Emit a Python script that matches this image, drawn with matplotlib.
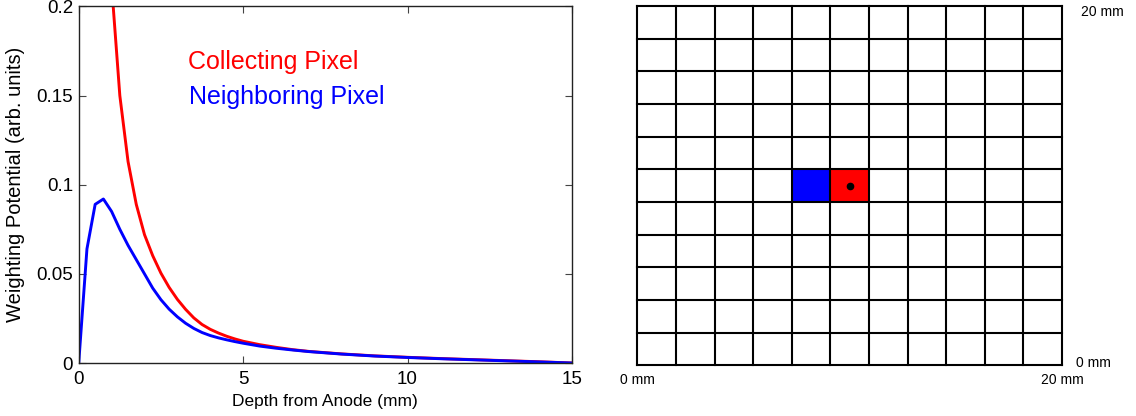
import matplotlib
matplotlib.use("Agg")
import matplotlib.pyplot as plt
import numpy as np
from matplotlib.patches import Rectangle

plt.rcParams['font.family'] = ['Liberation Sans', 'DejaVu Sans']

# ---- data: weighting potential vs depth ----
depth = [0, 0.25, 0.5, 0.75, 1.0, 1.25, 1.5, 1.75, 2.0, 2.25, 2.5, 2.75, 3.0,
         3.25, 3.5, 3.75, 4.0, 4.25, 4.5, 4.75, 5, 5.5, 6, 6.5, 7, 8, 9, 10,
         11, 12, 13, 14, 15]
collecting = [1.0, 0.6, 0.4, 0.28, 0.212, 0.150, 0.113, 0.089, 0.072, 0.0602,
              0.0504, 0.0424, 0.0357, 0.0301, 0.0253, 0.0216, 0.0189, 0.0168,
              0.0150, 0.0135, 0.0122, 0.0103, 0.0088, 0.0075, 0.0065, 0.0051,
              0.0040, 0.0032, 0.0025, 0.0019, 0.0013, 0.0007, 0.0]
neighboring = [0.0, 0.064, 0.089, 0.092, 0.085, 0.075, 0.066, 0.058, 0.050, 0.0420,
               0.0355, 0.0302, 0.0259, 0.0223, 0.0194, 0.0171, 0.0154, 0.0141,
               0.0130, 0.0120, 0.0111, 0.0095, 0.0083, 0.0073, 0.0064, 0.0050,
               0.0039, 0.0031, 0.0024, 0.0018, 0.0012, 0.0006, 0.0]

xticks = [0, 5, 10, 15]
yticks = [0, 0.05, 0.1, 0.15, 0.2]
yticklabels = ["0", "0.05", "0.1", "0.15", "0.2"]

# ---- data: pixel grid ----
n_cells = 11
collecting_cell = (5, 5)
neighbor_cell = (4, 5)
grid_labels = ["0 mm", "20 mm"]

fig = plt.figure(figsize=(11.36, 4.16), dpi=100)

# left panel
ax = fig.add_axes([0.0693, 0.1274, 0.4342, 0.857])
ax.plot(depth, collecting, color='#ff0000', lw=2.1)
ax.plot(depth, neighboring, color='#0000ff', lw=2.1)
ax.set_xlim(0, 15)
ax.set_ylim(0, 0.2)
ax.set_xticks(xticks)
ax.set_yticks(yticks)
ax.set_yticklabels(yticklabels)
ax.tick_params(direction='in', top=True, right=True, length=5, width=0.8,
               labelsize=13.5, color='#444444', pad=4)
ax.tick_params(axis='x', pad=6)
for s in ax.spines.values():
    s.set_color('#222222')
    s.set_linewidth(1.0)
ax.set_xlabel("Depth from Anode (mm)", fontsize=12.5, labelpad=4)
ax.set_ylabel("Weighting Potential (arb. units)", fontsize=14.5, labelpad=8)
ax.text(3.32, 0.169, "Collecting Pixel", color='#ff0000', fontsize=18, va='center', ha='left')
ax.text(3.35, 0.149, "Neighboring Pixel", color='#0000ff', fontsize=18, va='center', ha='left')

# right panel
ax2 = fig.add_axes([0.5610, 0.1214, 0.3739, 0.8642])
ax2.set_xlim(0, n_cells)
ax2.set_ylim(0, n_cells)
ax2.axis('off')
for (cx, cy), col in [(neighbor_cell, '#0000ff'), (collecting_cell, '#ff0000')]:
    ax2.add_patch(Rectangle((cx, cy), 1, 1, facecolor=col, edgecolor='none', zorder=1))
for i in range(n_cells + 1):
    ax2.plot([i, i], [0, n_cells], color='black', lw=1.5, zorder=2, clip_on=False,
             solid_capstyle='projecting')
    ax2.plot([0, n_cells], [i, i], color='black', lw=1.5, zorder=2, clip_on=False,
             solid_capstyle='projecting')
ax2.plot([collecting_cell[0] + 0.5], [collecting_cell[1] + 0.5], 'o', color='black',
         ms=4.5, zorder=3)

tx = ax2.transAxes
ax2.text(0.0, -0.04, grid_labels[0], transform=tx, ha='center', va='center', fontsize=10)
ax2.text(1.0, -0.04, grid_labels[1], transform=tx, ha='center', va='center', fontsize=10)
ax2.text(1.033, 0.007, grid_labels[0], transform=tx, ha='left', va='center', fontsize=10)
ax2.text(1.045, 0.983, grid_labels[1], transform=tx, ha='left', va='center', fontsize=10)

fig.savefig("out.png", dpi=100)
